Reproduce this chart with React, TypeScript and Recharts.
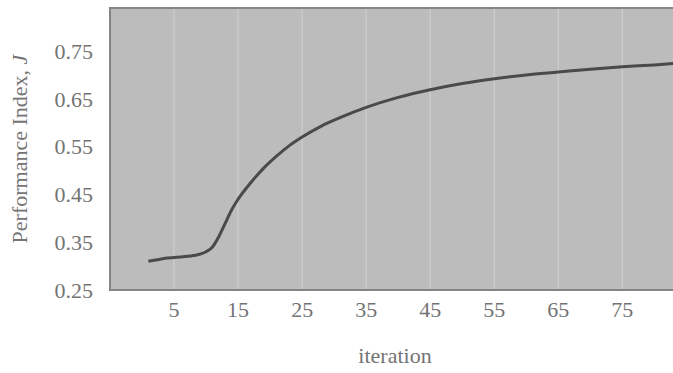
import React from 'react';
import { LineChart, Line, XAxis, YAxis, CartesianGrid, ReferenceArea } from 'recharts';

const iterations = [1, 3, 5, 8, 10, 11, 12, 13, 14, 15, 17, 19, 21, 23, 25, 28, 31, 35, 40, 45, 50, 55, 60, 65, 70, 75, 80, 84];
const performance = [0.31, 0.315, 0.318, 0.322, 0.33, 0.34, 0.362, 0.39, 0.418, 0.44, 0.475, 0.505, 0.53, 0.552, 0.57, 0.593, 0.611, 0.632, 0.653, 0.669, 0.682, 0.692, 0.7, 0.706, 0.712, 0.717, 0.721, 0.725];
const xTicks = [5, 15, 25, 35, 45, 55, 65, 75];
const yTicks = [0.25, 0.35, 0.45, 0.55, 0.65, 0.75];

const data = iterations.map((it, i) => ({ it, J: performance[i] }));

const FONT = '"Liberation Serif", "Times New Roman", serif';
const TEXT = '#747474';

const YLabel = (props: any) => {
  const vb = props.viewBox || {};
  const cy = (vb.y ?? 0) + (vb.height ?? 0) / 2;
  const x = 27;
  return (
    <text x={x} y={cy} transform={`rotate(-90, ${x}, ${cy})`} textAnchor="middle" fill={TEXT} fontFamily={FONT} fontSize={22}>
      Performance Index, <tspan fontStyle="italic">J</tspan>
    </text>
  );
};

export default function App() {
  return (
    <div style={{ position: 'absolute', left: 0, top: 0, width: 673, height: 373, overflow: 'hidden', background: '#fff' }}>
      <LineChart width={700} height={373} data={data} margin={{ top: 8, right: 20, bottom: 0, left: 0 }}>
        <CartesianGrid horizontal={false} verticalValues={xTicks} stroke="#cbcbcb" strokeWidth={1.5} fill="#bcbcbc" fillOpacity={1} />
        <XAxis
          dataKey="it"
          type="number"
          domain={[-5, 84]}
          ticks={xTicks}
          allowDataOverflow
          height={83}
          tickLine={false}
          tickSize={0}
          tickMargin={11}
          axisLine={false}
          tick={{ fill: TEXT, fontFamily: FONT, fontSize: 22 }}
          label={{ value: 'iteration', position: 'insideBottom', offset: 10, fill: TEXT, fontFamily: FONT, fontSize: 22 }}
        />
        <YAxis
          type="number"
          domain={[0.25, 0.84]}
          ticks={yTicks}
          allowDataOverflow
          width={110}
          tickLine={false}
          tickSize={0}
          tickMargin={17}
          axisLine={false}
          tickFormatter={(v: number) => v.toFixed(2)}
          tick={{ fill: TEXT, fontFamily: FONT, fontSize: 22 }}
          label={<YLabel />}
        />
        <ReferenceArea x1={-5} x2={84} y1={0.25} y2={0.84} fill="none" stroke="#858585" strokeWidth={2} ifOverflow="visible" />
        <Line type="monotone" dataKey="J" stroke="#4a4a4a" strokeWidth={3} dot={false} isAnimationActive={false} />
      </LineChart>
    </div>
  );
}
